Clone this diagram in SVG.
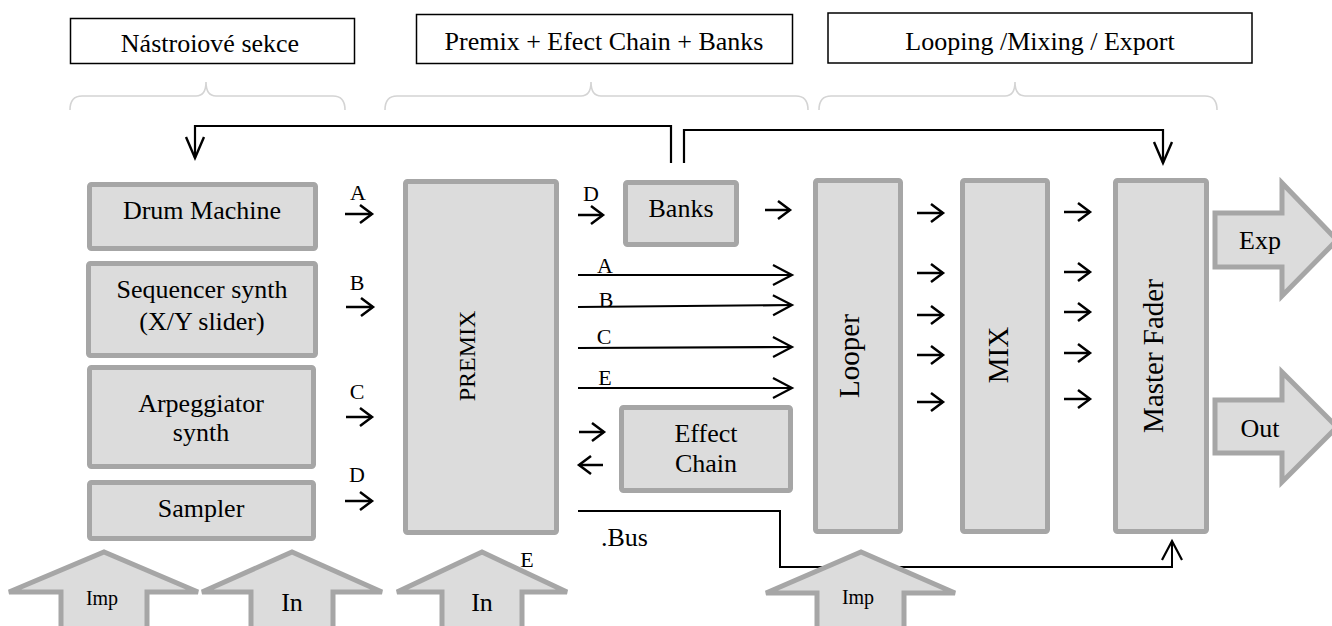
<svg xmlns="http://www.w3.org/2000/svg" width="1332" height="626" viewBox="0 0 1332 626">
<style>
text{font-family:"Liberation Serif","Times New Roman",serif;fill:#000}
.hdr{fill:#fff;stroke:#000;stroke-width:1.5}
.ht{font-size:26px;text-anchor:middle}
.brace{fill:none;stroke:#d4d4d4;stroke-width:1.6}
.node{fill:#dcdcdc;stroke:#a6a6a6;stroke-width:5}
.nt{font-size:26px;text-anchor:middle}
.rt{font-size:29px;text-anchor:middle}
.lbl{font-size:22px;text-anchor:middle}
.blk{fill:#dcdcdc;stroke:#a6a6a6;stroke-width:5;stroke-linejoin:miter}
.sa{stroke:#000;stroke-width:2.5;fill:none;marker-end:url(#ms)}
.la{stroke:#000;stroke-width:2.2;fill:none;marker-end:url(#ml)}
.fb{stroke:#000;stroke-width:2.2;fill:none}
</style>
<defs>
<marker id="ms" markerUnits="userSpaceOnUse" orient="auto" markerWidth="18" markerHeight="22" refX="14" refY="11"><path d="M2,2 L14,11 L2,20" fill="none" stroke="#000" stroke-width="2.5"/></marker>
<marker id="ml" markerUnits="userSpaceOnUse" orient="auto" markerWidth="26" markerHeight="24" refX="21" refY="12"><path d="M2,2 L21,12 L2,22" fill="none" stroke="#000" stroke-width="2.2"/></marker>
<marker id="mf" markerUnits="userSpaceOnUse" orient="auto" markerWidth="28" markerHeight="22" refX="23" refY="11"><path d="M2,2 L23,11 L2,20" fill="none" stroke="#000" stroke-width="2.4"/></marker>
</defs>

<g id="headers">
<g id="hdr-instr"><rect class="hdr" x="70.5" y="18.5" width="284" height="45"/><text class="ht" x="210" y="52">Nástroiové sekce</text></g>
<g id="hdr-premix"><rect class="hdr" x="416.5" y="14.5" width="376" height="49"/><text class="ht" x="604" y="50">Premix + Efect Chain + Banks</text></g>
<g id="hdr-loop"><rect class="hdr" x="828" y="13" width="424" height="50"/><text class="ht" x="1040" y="50">Looping /Mixing / Export</text></g>
</g>

<g id="braces">
<path class="brace" d="M70,110 Q70,96 82,96 L196,96 Q206,96 206,82 Q206,96 216,96 L333,96 Q345,96 345,110"/>
<path class="brace" d="M385,110 Q385,96 397,96 L581,96 Q591,96 591,82 Q591,96 601,96 L796,96 Q808,96 808,110"/>
<path class="brace" d="M819,110 Q819,96 831,96 L1005,96 Q1015,96 1015,82 Q1015,96 1025,96 L1205,96 Q1217,96 1217,110"/>
</g>

<g id="connectors">
<path class="fb" d="M671,163 L671,126 L195,126 L195,158" marker-end="url(#mf)"/>
<path class="fb" d="M684,163 L684,130 L1163,130 L1163,163" marker-end="url(#mf)"/>
<path class="fb" d="M578,511 L780,511 L780,567 L1172,567 L1172,541" marker-end="url(#ml)" style="stroke-width:2"/>
<line class="sa" x1="345" y1="214" x2="372" y2="214"/>
<line class="sa" x1="346" y1="307" x2="373" y2="307"/>
<line class="sa" x1="346" y1="417" x2="372" y2="417"/>
<line class="sa" x1="345" y1="501" x2="372" y2="501"/>
<line class="sa" x1="578" y1="215" x2="603" y2="215"/>
<line class="sa" x1="765" y1="210" x2="790" y2="210"/>
<line class="la" x1="578" y1="275" x2="792" y2="275"/>
<line class="la" x1="578" y1="307" x2="792" y2="305"/>
<line class="la" x1="578" y1="348" x2="792" y2="347"/>
<line class="la" x1="578" y1="388" x2="792" y2="388"/>
<line class="sa" x1="579" y1="432" x2="604" y2="432"/>
<line class="sa" x1="603" y1="465" x2="579" y2="465"/>
<line class="sa" x1="917" y1="213" x2="943" y2="213"/>
<line class="sa" x1="917" y1="273" x2="943" y2="273"/>
<line class="sa" x1="917" y1="315" x2="943" y2="315"/>
<line class="sa" x1="917" y1="355" x2="943" y2="355"/>
<line class="sa" x1="917" y1="402" x2="943" y2="402"/>
<line class="sa" x1="1064" y1="212" x2="1090" y2="212"/>
<line class="sa" x1="1064" y1="272" x2="1090" y2="272"/>
<line class="sa" x1="1064" y1="312" x2="1090" y2="312"/>
<line class="sa" x1="1064" y1="353" x2="1090" y2="353"/>
<line class="sa" x1="1064" y1="399" x2="1090" y2="399"/>
<text class="lbl" x="358" y="200">A</text>
<text class="lbl" x="357" y="290">B</text>
<text class="lbl" x="357" y="399">C</text>
<text class="lbl" x="357" y="482">D</text>
<text class="lbl" x="591" y="201">D</text>
<text class="lbl" x="605" y="273">A</text>
<text class="lbl" x="606" y="307">B</text>
<text class="lbl" x="604" y="344">C</text>
<text class="lbl" x="605" y="385">E</text>
<text class="lbl" x="527" y="567">E</text>
<text class="nt" x="601" y="546" text-anchor="start" style="text-anchor:start">.Bus</text>
</g>

<g id="drum"><rect class="node" x="89.5" y="184.5" width="226" height="64" rx="2"/><text class="nt" x="202" y="219">Drum Machine</text></g>
<g id="sequencer"><rect class="node" x="88.5" y="263.5" width="227" height="92" rx="2"/><text class="nt" x="202" y="298">Sequencer synth</text><text class="nt" x="202" y="330">(X/Y slider)</text></g>
<g id="arpeggiator"><rect class="node" x="89.5" y="367.5" width="224" height="99" rx="2"/><text class="nt" x="201" y="412">Arpeggiator</text><text class="nt" x="201" y="441">synth</text></g>
<g id="sampler"><rect class="node" x="89.5" y="482.5" width="224" height="56" rx="2"/><text class="nt" x="201" y="517">Sampler</text></g>
<g id="premix"><rect class="node" x="405.5" y="181.5" width="151" height="351" rx="2"/><text class="rt" style="font-size:24px" transform="translate(475,356) rotate(-90)">PREMIX</text></g>
<g id="banks"><rect class="node" x="625.5" y="182.5" width="111" height="62" rx="2"/><text class="nt" x="681" y="217">Banks</text></g>
<g id="effect"><rect class="node" x="621.5" y="407.5" width="169" height="83" rx="2"/><text class="nt" x="706" y="442">Effect</text><text class="nt" x="706" y="472">Chain</text></g>
<g id="looper"><rect class="node" x="815.5" y="180.5" width="85" height="351" rx="2"/><text class="rt" transform="translate(859,356) rotate(-90)">Looper</text></g>
<g id="mix"><rect class="node" x="962.5" y="180.5" width="85" height="351" rx="2"/><text class="rt" transform="translate(1008,355) rotate(-90)">MIX</text></g>
<g id="master"><rect class="node" x="1115.5" y="180.5" width="91" height="351" rx="2"/><text class="rt" transform="translate(1163,356) rotate(-90)">Master Fader</text></g>

<g id="in-imp1"><polygon class="blk" points="61,632 61,592 9,592 104,552 198,592 147,592 147,632"/><text class="nt" style="font-size:20px" x="102" y="605">Imp</text></g>
<g id="in-in1"><polygon class="blk" points="251,632 251,592 202,592 292,552 382,592 333,592 333,632"/><text class="nt" x="292" y="611">In</text></g>
<g id="in-in2"><polygon class="blk" points="442,632 442,592 397,592 482,552 567,592 522,592 522,632"/><text class="nt" x="482" y="611">In</text></g>
<g id="in-imp2"><polygon class="blk" points="817,632 817,593 766,593 861,552 955,593 904,593 904,632"/><text class="nt" style="font-size:20px" x="858" y="604">Imp</text></g>
<g id="out-exp"><polygon class="blk" points="1215,213 1282,213 1282,183 1337,240 1282,296 1282,267 1215,267"/><text class="nt" x="1260" y="249">Exp</text></g>
<g id="out-out"><polygon class="blk" points="1215,400 1282,400 1282,372 1337,427 1282,482 1282,453 1215,453"/><text class="nt" x="1260" y="437">Out</text></g>
</svg>
